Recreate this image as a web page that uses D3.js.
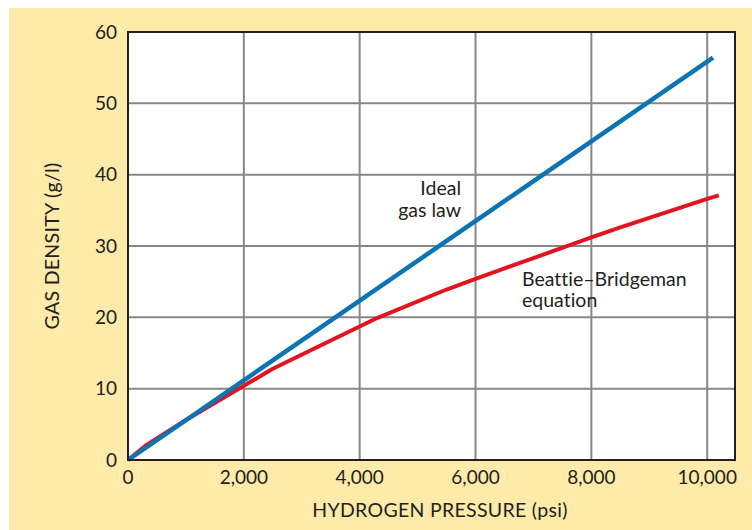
<!DOCTYPE html>
<html lang="en">
<head>
  <meta charset="UTF-8">
  <title>Hydrogen gas density</title>
  <style>
    body { margin: 0; background: #fff; font-family: Lato, "Open Sans", sans-serif; }
    text { font-variant-ligatures: none; }
    .grid line { stroke: #878787; stroke-width: 2; }
    .tick-label { font-size: 19px; fill: #231f20; }
    .axis-title { font-size: 19.5px; fill: #231f20; letter-spacing: 0.3px; }
    .note { font-size: 19.5px; fill: #231f20; }
  </style>
  <script src="https://d3js.org/d3.v7.min.js"></script>
</head>
<body>
<div id="chart"></div>
<script>
/* global d3 */

// data (pressure in psi, density in g/l)
var xTicks = [0, 2000, 4000, 6000, 8000, 10000];
var yTicks = [0, 10, 20, 30, 40, 50, 60];
var idealPressure = [0, 10100];
var idealDensity = [0, 56.4];
var bbPressure = [0, 300, 1000, 2000, 2500, 4300, 5500, 6000, 7000, 8000, 8500, 10000, 10200];
var bbDensity = [0, 2.0, 5.6, 10.4, 12.8, 19.9, 23.9, 25.4, 28.3, 31.2, 32.6, 36.6, 37.1];

var W = 752, H = 530;
var margin = {top: 32, right: 17, bottom: 70, left: 128};
var width = W - margin.left - margin.right,
  height = H - margin.top - margin.bottom;

var svg = d3.select("#chart").append("svg")
  .attr("width", W)
  .attr("height", H);

// yellow panel
svg.append("rect")
  .attr("x", 9).attr("y", 8)
  .attr("width", W - 9).attr("height", H - 8)
  .attr("fill", "#feeaa9");

var g = svg.append("g")
  .attr("transform", "translate(" + margin.left + "," + margin.top + ")");

var x = d3.scaleLinear().domain([0, 10480]).range([0, width]);
var y = d3.scaleLinear().domain([0, 60]).range([height, 0]);

g.append("rect")
  .attr("width", width).attr("height", height)
  .attr("fill", "#fff");

var grid = g.append("g").attr("class", "grid");
grid.selectAll(".vx")
  .data(xTicks.slice(1))
  .enter().append("line")
  .attr("x1", function (d) { return x(d); })
  .attr("x2", function (d) { return x(d); })
  .attr("y1", 0).attr("y2", height);
grid.selectAll(".hy")
  .data(yTicks.slice(1, -1))
  .enter().append("line")
  .attr("y1", function (d) { return y(d); })
  .attr("y2", function (d) { return y(d); })
  .attr("x1", 0).attr("x2", width);

var fmt = d3.format(",");

g.selectAll(".xl")
  .data(xTicks)
  .enter().append("text")
  .attr("class", "tick-label")
  .attr("x", function (d) { return x(d); })
  .attr("y", height + 24)
  .attr("text-anchor", "middle")
  .text(function (d) { return fmt(d); });

g.selectAll(".yl")
  .data(yTicks)
  .enter().append("text")
  .attr("class", "tick-label")
  .attr("x", -11)
  .attr("y", function (d) { return y(d); })
  .attr("dy", "0.35em")
  .attr("text-anchor", "end")
  .text(function (d) { return d; });

var line = d3.line()
  .x(function (d) { return x(d[0]); })
  .y(function (d) { return y(d[1]); });

g.append("path")
  .datum(d3.zip(bbPressure, bbDensity))
  .attr("fill", "none")
  .attr("stroke", "#e3141f")
  .attr("stroke-width", 4)
  .attr("stroke-linejoin", "round")
  .attr("d", line);

g.append("path")
  .datum(d3.zip(idealPressure, idealDensity))
  .attr("fill", "none")
  .attr("stroke", "#0b74b3")
  .attr("stroke-width", 4.5)
  .attr("d", line);

// plot frame
g.append("rect")
  .attr("width", width).attr("height", height)
  .attr("fill", "none")
  .attr("stroke", "#231f20")
  .attr("stroke-width", 2);

// line labels
var ideal = g.append("text").attr("class", "note").attr("text-anchor", "end");
ideal.append("tspan").attr("x", 333).attr("y", 163).text("Ideal");
ideal.append("tspan").attr("x", 333).attr("y", 185).text("gas law");

var bb = g.append("text").attr("class", "note");
bb.append("tspan").attr("x", 394).attr("y", 254).text("Beattie–Bridgeman");
bb.append("tspan").attr("x", 394).attr("y", 275).text("equation");

svg.append("text")
  .attr("class", "axis-title")
  .attr("x", 440)
  .attr("y", 517)
  .attr("text-anchor", "middle")
  .text("HYDROGEN PRESSURE (psi)");

svg.append("text")
  .attr("class", "axis-title")
  .attr("transform", "translate(59," + (margin.top + height / 2) + ") rotate(-90)")
  .attr("text-anchor", "middle")
  .text("GAS DENSITY (g/l)");
</script>
</body>
</html>
